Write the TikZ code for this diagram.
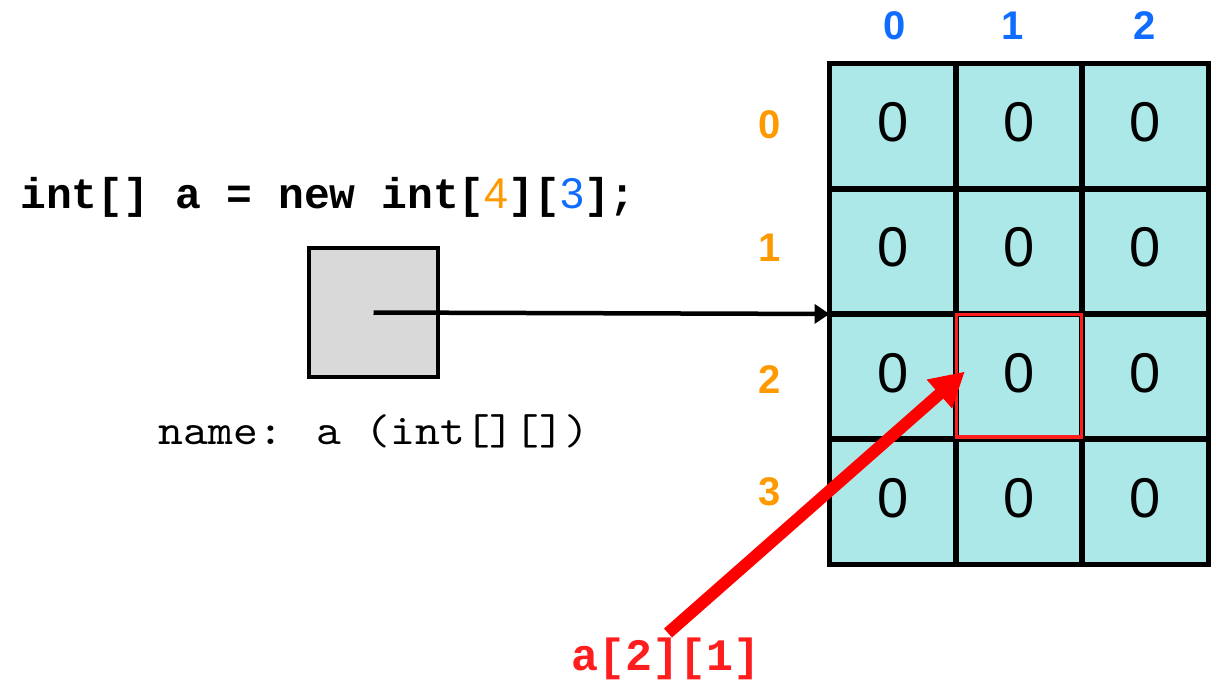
\documentclass[tikz,border=0pt]{standalone}
\usepackage{fontspec}
\usepackage{xcolor}
\usepackage{tikz}
\usetikzlibrary{arrows.meta}
\usetikzlibrary{positioning}
\usetikzlibrary{calc}

\newfontfamily\arialfont{Liberation Sans}
\newfontfamily\codefont{Liberation Mono}
\newfontfamily\monofont[FakeStretch=1.1]{lmmono10-regular.otf}

\definecolor{cellcyan}{RGB}{173,232,233}
\definecolor{boxgray}{RGB}{217,217,217}
\definecolor{idxorange}{RGB}{255,153,0}
\definecolor{idxblue}{RGB}{16,108,255}
\definecolor{hlred}{RGB}{255,30,30}

\tikzset{
  cell/.style={rectangle,draw=black,line width=5.5pt,fill=cellcyan,outer sep=0pt,inner sep=0pt,
    minimum width=126.3pt,minimum height=125.25pt,text depth=8pt,font=\arialfont\fontsize{56}{56}\selectfont},
  rowidx/.style={inner sep=0pt,text=idxorange,font=\arialfont\bfseries\fontsize{40}{40}\selectfont},
  colidx/.style={inner sep=0pt,text=idxblue,font=\arialfont\bfseries\fontsize{40}{40}\selectfont},
  codetext/.style={inner sep=0pt,font=\codefont\bfseries\fontsize{43}{43}\selectfont},
  nametext/.style={inner sep=0pt,font=\monofont\fontsize{43}{43}\selectfont},
  reflabel/.style={inner sep=0pt,text=hlred,font=\codefont\bfseries\fontsize{45}{45}\selectfont},
  ptrbox/.style={rectangle,draw=black,line width=4.5pt,fill=boxgray,outer sep=0pt,
    minimum width=129pt,minimum height=129pt},
}

\begin{document}
\begin{tikzpicture}[x=1pt,y=-1pt]
          \useasboundingbox (0,0) rectangle (1220,683);
          \node[codetext,anchor=west] (code) at (20,197)
            {int[] a = new int[{\arialfont\mdseries\color{idxorange}4}][{\arialfont\mdseries\color{idxblue}3}];};
          \node[ptrbox] (box) at (373.5,312.5) {};
          \node[nametext] (name) at (374,431) {name: a (int[][])};
          \begin{scope}[every node/.style={cell}]
            \node (c-0-0) at (892.7,126.1) {0};
            \node (c-0-1) at (1019.0,126.1) {0};
            \node (c-0-2) at (1145.3,126.1) {0};
            \node (c-1-0) at (892.7,251.4) {0};
            \node (c-1-1) at (1019.0,251.4) {0};
            \node (c-1-2) at (1145.3,251.4) {0};
            \node (c-2-0) at (892.7,376.6) {0};
            \node (c-2-1) at (1019.0,376.6) {0};
            \node (c-2-2) at (1145.3,376.6) {0};
            \node (c-3-0) at (892.7,501.9) {0};
            \node (c-3-1) at (1019.0,501.9) {0};
            \node (c-3-2) at (1145.3,501.9) {0};
          \end{scope}
          \draw[hlred,line width=3.5pt] ([shift={(0.5,0.5)}]c-2-1.north west) rectangle ([shift={(-0.5,-2)}]c-2-1.south east);
          \begin{scope}[every node/.style={colidx}]
            \node (col0) at (895,26) {0};
            \node (col1) at (1013,26) {1};
            \node (col2) at (1145,26) {2};
          \end{scope}
          \begin{scope}[every node/.style={rowidx}]
            \node (row0) at (770,125) {0};
            \node (row1) at (770,248) {1};
            \node (row2) at (770,380) {2};
            \node (row3) at (770,492) {3};
          \end{scope}
          \node[reflabel] (ref) at (666,659) {a[2][1]};
          \coordinate (reftail) at (668,633);
          \draw[line width=4.5pt,-{Triangle[length=15pt,width=19pt]}] (box.center) -- (c-2-0.north west);
          \draw[red,line width=12pt,-{Triangle[length=34pt,width=36pt]}] (reftail) -- ([shift={(9,-5)}]c-2-1.west);
        \end{tikzpicture}
\end{document}
